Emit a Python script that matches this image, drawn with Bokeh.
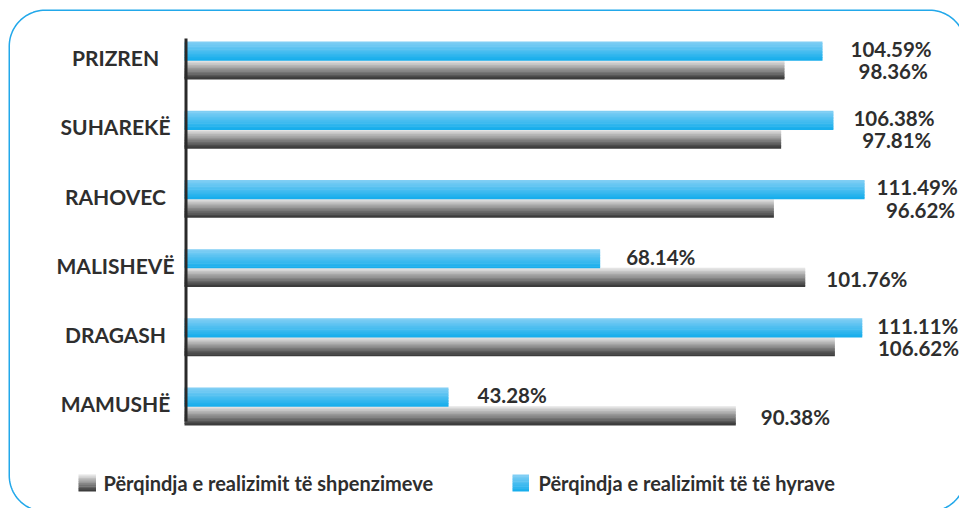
import numpy as np
from bokeh.plotting import figure
from bokeh.models import Range1d, ColumnDataSource
from bokeh.core.properties import value
from bokeh.embed import file_html
from bokeh.resources import INLINE

# ---------------- data ----------------
cities = ["PRIZREN", "SUHAREKË", "RAHOVEC", "MALISHEVË", "DRAGASH", "MAMUSHË"]
revenue_pct = [104.59, 106.38, 111.49, 68.14, 111.11, 43.28]     # blue
spending_pct = [98.36, 97.81, 96.62, 101.76, 106.62, 90.38]      # gray
legend_spending = "Përqindja e realizimit të shpenzimeve"
legend_revenue = "Përqindja e realizimit të të hyrave"

# ---------------- layout / style ----------------
W, H = 959, 508
PX0 = 184.0      # page x of value 0
PXU = 6.1        # px per percent
PY0 = 60.0       # page y of first category centre
PYU = 69.2       # px per category

def X(px):
    return (px - PX0) / PXU

def Y(py):
    return (py - PY0) / PYU

FONT = value("Lato")
TXT = "#2e2e2e"
BLUE_TOP, BLUE_BOT = (128, 206, 244), (24, 174, 236)
GRAY_TOP, GRAY_BOT = (228, 228, 228), (60, 60, 60)
BAR_PX = 18.7
NSTRIP = 12
rev_label_dx = [28, 20, 12, 26, 15, 29]
spe_label_dx = [74, 81, 112, 21, 43, 25]

def mix(c0, c1, t):
    return "#%02x%02x%02x" % tuple(int(round(a + (b - a) * t)) for a, b in zip(c0, c1))

p = figure(width=W, height=H, output_backend="svg", toolbar_location=None,
           x_range=Range1d(X(0), X(W)), y_range=Range1d(Y(H), Y(0)),
           x_axis_location=None, y_axis_location=None, min_border=0,
           outline_line_color=None, background_fill_color="white",
           border_fill_color="white")
p.xgrid.visible = False
p.ygrid.visible = False

idx = np.arange(len(cities), dtype=float)
bh = BAR_PX / PYU
sh = bh / NSTRIP

# gradient bars, drawn as thin horizontal strips
for k in range(NSTRIP):
    t = k / (NSTRIP - 1)
    top_off = k * sh
    yb = idx - bh + top_off + sh / 2
    p.hbar(y=yb, left=0, right=revenue_pct, height=sh * 1.35,
           fill_color=mix(BLUE_TOP, BLUE_BOT, t), line_color=None)
    yg = idx + top_off + sh / 2
    p.hbar(y=yg, left=0, right=spending_pct, height=sh * 1.35,
           fill_color=mix(GRAY_TOP, GRAY_BOT, t), line_color=None)

# vertical axis line
p.segment(x0=[X(185.5)], y0=[Y(38)], x1=[X(185.5)], y1=[Y(421)],
          line_color="#2a2a2a", line_width=3)

# category labels
p.text(x=[X(115)] * len(cities), y=list(idx - 0.04), text=cities,
       text_font=FONT, text_font_style="bold", text_font_size="21px",
       text_color=TXT, text_align="center", text_baseline="middle")

# value labels
rev_src = ColumnDataSource(dict(x=revenue_pct, y=list(idx - bh / 2 - 0.03),
                                t=["%.2f%%" % v for v in revenue_pct],
                                dx=rev_label_dx))
spe_src = ColumnDataSource(dict(x=spending_pct, y=list(idx + bh / 2 + 0.02),
                                t=["%.2f%%" % v for v in spending_pct],
                                dx=spe_label_dx))
for src in (rev_src, spe_src):
    p.text(x="x", y="y", text="t", x_offset="dx", source=src,
           text_font=FONT, text_font_style="bold", text_font_size="20.5px",
           text_color=TXT, text_align="left", text_baseline="middle")

# legend (manual, with gradient swatches)
def swatch(x0, x1, y0, y1, c0, c1, n=10):
    hs = (y1 - y0) / n
    for k in range(n):
        p.quad(left=[X(x0)], right=[X(x1)], top=[Y(y0 + k * hs)],
               bottom=[Y(min(y1, y0 + (k + 1) * hs + 0.4))],
               fill_color=mix(c0, c1, k / (n - 1)), line_color=None)

swatch(78, 95.5, 474, 491, GRAY_TOP, GRAY_BOT)
swatch(512, 528.5, 474, 491, BLUE_TOP, BLUE_BOT)
p.text(x=[X(103), X(538)], y=[Y(482.5), Y(482.5)],
       text=[legend_spending, legend_revenue],
       text_font=FONT, text_font_style="bold", text_font_size="20px",
       text_color=TXT, text_align="left", text_baseline="middle")

# rounded frame
L, T, R, B, RAD = 8.75, 9.75, 965.0, 511.0, 36.0
def arc(cx, cy, a0, a1, n=24):
    a = np.linspace(a0, a1, n)
    return cx + RAD * np.cos(a), cy + RAD * np.sin(a)
xs, ys = [], []
for (cx, cy, a0, a1) in [(L + RAD, T + RAD, np.pi, 1.5 * np.pi),
                         (R - RAD, T + RAD, 1.5 * np.pi, 2 * np.pi),
                         (R - RAD, B - RAD, 0, 0.5 * np.pi),
                         (L + RAD, B - RAD, 0.5 * np.pi, np.pi)]:
    ax, ay = arc(cx, cy, a0, a1)
    xs.extend(ax); ys.extend(ay)
xs.append(xs[0]); ys.append(ys[0])
p.line(x=[X(v) for v in xs], y=[Y(v) for v in ys], line_color="#22a8ea", line_width=1.5)

open("out.html", "w").write(file_html(p, INLINE))
